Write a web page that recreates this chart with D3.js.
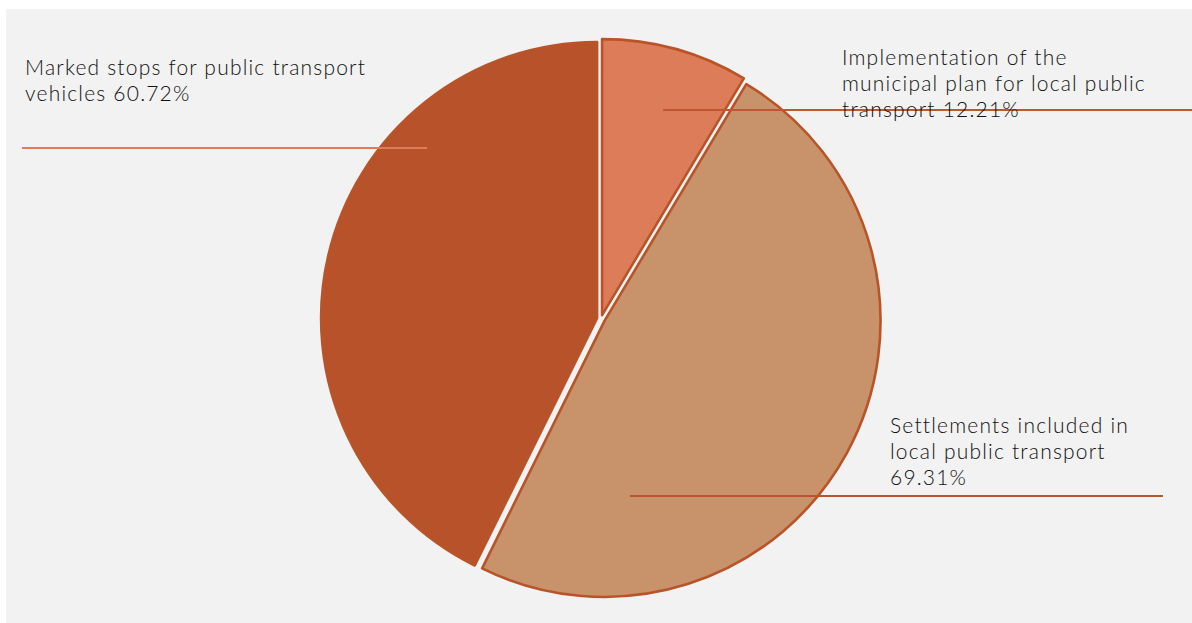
<!DOCTYPE html>
<html>
<head>
<meta charset="utf-8">
<script src="https://cdn.jsdelivr.net/npm/d3@7/dist/d3.min.js"></script>
<style>
  html, body { margin: 0; padding: 0; background: #ffffff; }
  svg { display: block; }
  .lbl { font-family: "Lato", "Open Sans", sans-serif; font-weight: 300; font-size: 21px; letter-spacing: 1.2px; fill: #111111; }
</style>
</head>
<body>
<svg id="chart" width="1192" height="623"></svg>
<script>
// Local public transport indicators (share of municipalities, %)
const categories = [
  "Implementation of the municipal plan for local public transport",
  "Settlements included in local public transport",
  "Marked stops for public transport vehicles"
];
const values = [12.21, 69.31, 60.72];
const fills = ["#dd7c59", "#c8936b", "#b7522a"];
const leaderColors = ["#bf5730", "#b8552e", "#e07c59"];

const W = 1192, H = 623;
const svg = d3.select("#chart");

// plot area panel
svg.append("rect")
  .attr("x", 6).attr("y", 9)
  .attr("width", W - 6).attr("height", H - 9)
  .attr("fill", "#f2f2f2");

const cx = 601, cy = 319, radius = 276, explode = 4;

const pie = d3.pie().sort(null).startAngle(0).endAngle(2 * Math.PI);
const arcs = pie(values);
const arc = d3.arc().innerRadius(0).outerRadius(radius);

const g = svg.append("g").attr("transform", `translate(${cx},${cy})`);

g.selectAll("path.slice")
  .data(arcs)
  .join("path")
  .attr("class", "slice")
  .attr("transform", d => {
    const mid = (d.startAngle + d.endAngle) / 2;
    return `translate(${explode * Math.sin(mid)},${-explode * Math.cos(mid)})`;
  })
  .attr("d", arc)
  .attr("fill", (d, i) => fills[i])
  .attr("stroke", "#b85428")
  .attr("stroke-width", 2.6)
  .attr("stroke-linejoin", "round");

// label layout: text anchor, wrap width and leader line span
const labelLayout = [
  { x: 842, y: 65, wrap: 326, line: [663, 1192, 110] },
  { x: 890, y: 433, wrap: 262, line: [630, 1163, 496] },
  { x: 25, y: 75, wrap: 360, line: [22, 427, 148] }
];
const lineHeight = 26;

const labels = svg.append("g");

// leader lines (drawn under the text)
labels.selectAll("line")
  .data(arcs)
  .join("line")
  .attr("x1", (d, i) => labelLayout[i].line[0])
  .attr("x2", (d, i) => labelLayout[i].line[1])
  .attr("y1", (d, i) => labelLayout[i].line[2])
  .attr("y2", (d, i) => labelLayout[i].line[2])
  .attr("stroke", (d, i) => leaderColors[i])
  .attr("stroke-width", 2);

const texts = labels.selectAll("text")
  .data(arcs)
  .join("text")
  .attr("class", "lbl")
  .attr("x", (d, i) => labelLayout[i].x)
  .attr("y", (d, i) => labelLayout[i].y);

// greedy word wrap into tspans
texts.each(function (d, i) {
  const t = d3.select(this);
  const words = `${categories[i]} ${d3.format(".2f")(values[i])}%`.split(" ");
  const maxW = labelLayout[i].wrap;
  let cur = [];
  let tspan = t.append("tspan").attr("x", labelLayout[i].x).attr("dy", 0);
  words.forEach(w => {
    cur.push(w);
    tspan.text(cur.join(" "));
    if (tspan.node().getComputedTextLength() > maxW && cur.length > 1) {
      cur.pop();
      tspan.text(cur.join(" "));
      cur = [w];
      tspan = t.append("tspan").attr("x", labelLayout[i].x).attr("dy", lineHeight).text(w);
    }
  });
});
</script>
</body>
</html>
